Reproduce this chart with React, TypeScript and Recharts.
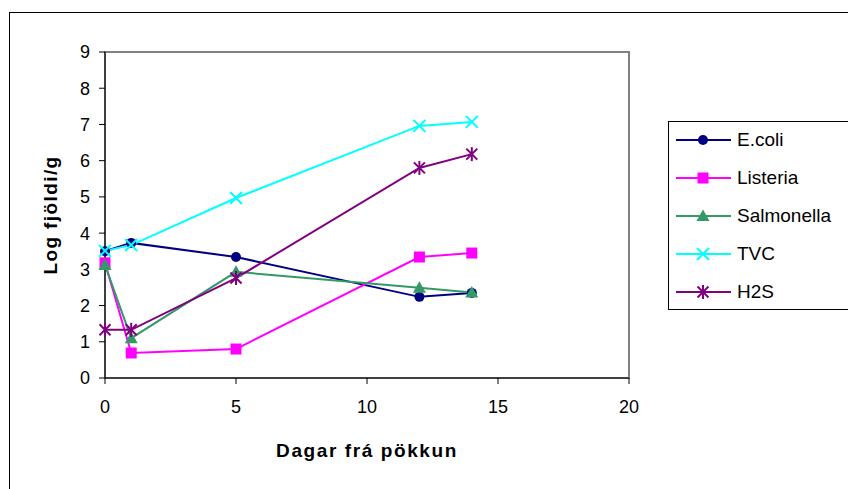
import { LineChart, Line, XAxis, YAxis, Legend, ReferenceArea } from 'recharts';

const days = [0, 1, 5, 12, 14];
const ecoli = [3.5, 3.73, 3.34, 2.24, 2.35];
const listeria = [3.18, 0.69, 0.8, 3.34, 3.45];
const salmonella = [3.12, 1.1, 2.93, 2.49, 2.36];
const tvc = [3.51, 3.67, 4.97, 6.96, 7.07];
const h2s = [1.33, 1.33, 2.76, 5.8, 6.18];

const xTicks = [0, 5, 10, 15, 20];
const yTicks = [0, 1, 2, 3, 4, 5, 6, 7, 8, 9];

const seriesNames = ['E.coli', 'Listeria', 'Salmonella', 'TVC', 'H2S'];
const seriesKeys = ['ecoli', 'listeria', 'salmonella', 'tvc', 'h2s'];
const seriesColors = ['#000080', '#FF00FF', '#339966', '#00FFFF', '#800080'];
const seriesShapes = ['circle', 'square', 'triangle', 'cross', 'star'];

const data = days.map((d, i) => ({
  day: d,
  ecoli: ecoli[i],
  listeria: listeria[i],
  salmonella: salmonella[i],
  tvc: tvc[i],
  h2s: h2s[i],
}));

const font = '"Liberation Sans", Arial, sans-serif';

function Marker({ shape, cx, cy, color }: { shape: string; cx: number; cy: number; color: string }) {
  if (shape === 'circle') return <circle cx={cx} cy={cy} r={5} fill={color} />;
  if (shape === 'square') return <rect x={cx - 5.5} y={cy - 5.5} width={11} height={11} fill={color} />;
  if (shape === 'triangle')
    return <polygon points={`${cx},${cy - 6.5} ${cx + 6.5},${cy + 5} ${cx - 6.5},${cy + 5}`} fill={color} />;
  if (shape === 'cross')
    return (
      <g stroke={color} strokeWidth={2}>
        <line x1={cx - 6} y1={cy - 6} x2={cx + 6} y2={cy + 6} />
        <line x1={cx - 6} y1={cy + 6} x2={cx + 6} y2={cy - 6} />
      </g>
    );
  return (
    <g stroke={color} strokeWidth={2}>
      <line x1={cx - 5.5} y1={cy - 5.5} x2={cx + 5.5} y2={cy + 5.5} />
      <line x1={cx - 5.5} y1={cy + 5.5} x2={cx + 5.5} y2={cy - 5.5} />
      <line x1={cx} y1={cy - 7} x2={cx} y2={cy + 7} />
    </g>
  );
}

function LegendBox() {
  return (
    <div
      style={{
        width: 200,
        height: 189,
        border: '1px solid #000',
        background: '#fff',
        boxSizing: 'border-box',
        fontFamily: font,
        fontSize: 19,
        color: '#000',
      }}
    >
      {seriesNames.map((name, i) => (
        <div key={name} style={{ height: 38, display: 'flex', alignItems: 'center', marginTop: i === 0 ? -1 : 0 }}>
          <svg width={62} height={20} style={{ flex: 'none' }}>
            <line x1={7} y1={10} x2={62} y2={10} stroke={seriesColors[i]} strokeWidth={2} />
            <Marker shape={seriesShapes[i]} cx={34} cy={10} color={seriesColors[i]} />
          </svg>
          <span style={{ marginLeft: 6 }}>{name}</span>
        </div>
      ))}
    </div>
  );
}

export default function App() {
  return (
    <div style={{ position: 'absolute', left: 0, top: 0, width: 848, height: 489, overflow: 'hidden', background: '#fff' }}>
      <div style={{ position: 'absolute', left: 9, top: 12, width: 900, height: 600, border: '1px solid #000' }} />
      <LineChart width={848} height={489} data={data} margin={{ top: 52, right: 219, bottom: 0, left: 0 }}>
        <ReferenceArea x1={0} x2={20} y1={0} y2={9} fill="none" stroke="#808080" strokeWidth={2} />
        <XAxis
          dataKey="day"
          type="number"
          domain={[0, 20]}
          ticks={xTicks}
          height={111}
          tickSize={6}
          tickMargin={16}
          stroke="#000"
          tick={{ fill: '#000', fontSize: 18, fontFamily: font }}
          label={{
            value: 'Dagar frá pökkun',
            position: 'insideBottom',
            offset: 32,
            style: { fontFamily: font, fontSize: 19, fontWeight: 'bold', letterSpacing: 1.6, fill: '#000' },
          }}
        />
        <YAxis
          type="number"
          domain={[0, 9]}
          ticks={yTicks}
          width={105}
          tickSize={6}
          tickMargin={9}
          stroke="#000"
          tick={{ fill: '#000', fontSize: 18, fontFamily: font }}
          label={{
            value: 'Log fjöldi/g',
            position: 'insideLeft',
            angle: -90,
            offset: 50,
            textAnchor: 'middle',
            style: { fontFamily: font, fontSize: 19, fontWeight: 'bold', letterSpacing: 1.4, fill: '#000' },
          }}
        />
        <Legend
          layout="vertical"
          align="center"
          verticalAlign="middle"
          wrapperStyle={{ left: 668, top: 121, width: 200, height: 189 }}
          content={() => <LegendBox />}
        />
        {seriesKeys.map((k, i) => (
          <Line
            key={k}
            dataKey={k}
            name={seriesNames[i]}
            stroke={seriesColors[i]}
            strokeWidth={2}
            isAnimationActive={false}
            dot={(p: any) => (
              <Marker key={`${k}-${p.index}`} shape={seriesShapes[i]} cx={p.cx} cy={p.cy} color={seriesColors[i]} />
            )}
            activeDot={false}
          />
        ))}
      </LineChart>
    </div>
  );
}
